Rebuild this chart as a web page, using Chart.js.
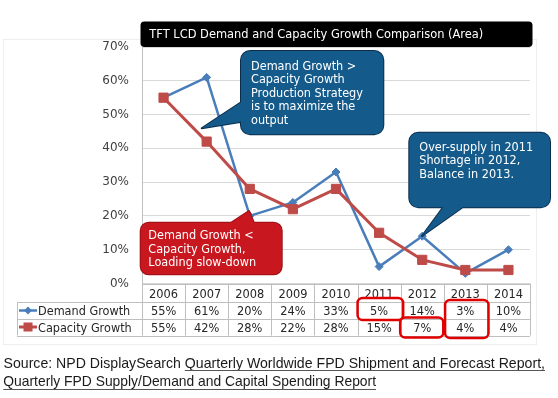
<!DOCTYPE html>
<html>
<head>
<meta charset="utf-8">
<script src="https://cdn.jsdelivr.net/npm/chart.js@4"></script>
<style>
  html, body { margin: 0; padding: 0; background: #fff; }
  canvas { display: block; }
</style>
</head>
<body>
<canvas id="grafico" width="558" height="398"></canvas>
<script>
const years = ['2006', '2007', '2008', '2009', '2010', '2011', '2012', '2013', '2014'];
const demandGrowth = [55, 61, 20, 24, 33, 5, 14, 3, 10];
const capacityGrowth = [55, 42, 28, 22, 28, 15, 7, 4, 4];
const yTicks = [0, 10, 20, 30, 40, 50, 60, 70];

const blue = '#4a7ebb';
const red = '#be4b48';

// text squeezed horizontally a bit, like the original slide
function sq(ctx, s, x, y, k) {
  ctx.save();
  ctx.translate(x, y);
  ctx.scale(k, 1);
  ctx.fillText(s, 0, 0);
  ctx.restore();
}

function callout(ctx, box, tail, fill, stroke, lines, tx, ty) {
  const [x0, y0, x1, y1, r] = box;
  const shape = () => {
    ctx.beginPath();
    ctx.roundRect(x0, y0, x1 - x0, y1 - y0, r);
    ctx.moveTo(tail[0][0], tail[0][1]);
    ctx.lineTo(tail[1][0], tail[1][1]);
    ctx.lineTo(tail[2][0], tail[2][1]);
    ctx.closePath();
  };
  ctx.save();
  shape();
  ctx.strokeStyle = stroke;
  ctx.lineWidth = 2;
  ctx.lineJoin = 'round';
  ctx.stroke();
  ctx.fillStyle = fill;
  ctx.beginPath();
  ctx.roundRect(x0, y0, x1 - x0, y1 - y0, r);
  ctx.fill();
  ctx.beginPath();
  ctx.moveTo(tail[0][0], tail[0][1]);
  ctx.lineTo(tail[1][0], tail[1][1]);
  ctx.lineTo(tail[2][0], tail[2][1]);
  ctx.closePath();
  ctx.fill();
  ctx.fillStyle = '#fff';
  ctx.font = '12px "DejaVu Sans"';
  ctx.textAlign = 'left';
  ctx.textBaseline = 'alphabetic';
  lines.forEach((l, i) => sq(ctx, l, tx, ty + i * 13.4, 0.94));
  ctx.restore();
}

const extras = {
  id: 'extras',
  beforeDraw(chart) {
    const ctx = chart.ctx;
    ctx.save();
    ctx.strokeStyle = '#eeeeee';
    ctx.lineWidth = 1;
    ctx.strokeRect(3.5, 39.5, 533, 305);
    ctx.restore();
  },
  afterDraw(chart) {
    const ctx = chart.ctx;
    const xs = chart.scales.x;
    const a = chart.chartArea;
    const colW = (a.right - a.left) / years.length;
    const r0 = a.bottom, r1 = 302, r2 = 319, r3 = 335.5;
    const colL = i => a.left + i * colW;

    ctx.save();
    // table grid
    ctx.strokeStyle = '#bfbfbf';
    ctx.lineWidth = 1;
    ctx.beginPath();
    [r0, r1, r2, r3].forEach((y, j) => {
      const yy = Math.round(y) + 0.5;
      ctx.moveTo(j === 0 ? a.left : 17, yy);
      ctx.lineTo(a.right, yy);
    });
    ctx.moveTo(17.5, r1);
    ctx.lineTo(17.5, r3);
    for (let i = 0; i <= years.length; i++) {
      const xx = Math.round(colL(i)) + 0.5;
      ctx.moveTo(xx, r0);
      ctx.lineTo(xx, r3);
    }
    ctx.stroke();

    // table text
    ctx.fillStyle = '#262626';
    ctx.font = '12px "DejaVu Sans"';
    ctx.textAlign = 'center';
    years.forEach((y, i) => {
      const cx = xs.getPixelForValue(i);
      sq(ctx, y, cx, 298, 0.95);
      sq(ctx, demandGrowth[i] + '%', cx, 315.2, 0.95);
      sq(ctx, capacityGrowth[i] + '%', cx, 331.7, 0.95);
    });
    ctx.textAlign = 'left';
    sq(ctx, 'Demand Growth', 38, 315.2, 0.94);
    sq(ctx, 'Capacity Growth', 38, 331.7, 0.94);

    // legend keys
    ctx.lineWidth = 2.5;
    ctx.strokeStyle = blue;
    ctx.beginPath(); ctx.moveTo(19, 310.5); ctx.lineTo(37, 310.5); ctx.stroke();
    ctx.fillStyle = blue;
    ctx.beginPath();
    ctx.moveTo(28, 306.5); ctx.lineTo(32, 310.5); ctx.lineTo(28, 314.5); ctx.lineTo(24, 310.5);
    ctx.closePath(); ctx.fill();
    ctx.strokeStyle = red;
    ctx.lineWidth = 3;
    ctx.beginPath(); ctx.moveTo(19, 327); ctx.lineTo(37, 327); ctx.stroke();
    ctx.fillStyle = red;
    ctx.fillRect(23.5, 322.5, 9, 9);

    // red highlight boxes
    ctx.strokeStyle = '#e00000';
    ctx.lineWidth = 2.5;
    ctx.beginPath();
    ctx.roundRect(colL(5), 298, colW + 2.5, 22, 5);
    ctx.roundRect(colL(6) - 0.5, 317.5, colW, 20, 5);
    ctx.roundRect(colL(7) + 1.3, 300, colW + 0.3, 38, 5);
    ctx.stroke();

    // title bar
    ctx.fillStyle = '#000';
    ctx.beginPath();
    ctx.roundRect(140.5, 21.5, 392, 25.5, 4);
    ctx.fill();
    ctx.fillStyle = '#fff';
    ctx.font = '13px "DejaVu Sans"';
    const title = 'TFT LCD Demand and Capacity Growth Comparison (Area)';
    sq(ctx, title, 149.3, 38.3, 334 / ctx.measureText(title).width);
    ctx.restore();

    // callouts
    callout(ctx, [241, 51, 383.3, 134.3, 9],
      [[246, 99], [201.7, 128.3], [246, 121]],
      '#145b8c', '#0c2e4c',
      ['Demand Growth >', 'Capacity Growth', 'Production Strategy', 'is to maximize the', 'output'],
      251, 70);
    callout(ctx, [409.3, 132.7, 550, 207.3, 9],
      [[447, 202], [422, 236], [470, 202]],
      '#145b8c', '#0c2e4c',
      ['Over-supply in 2011', 'Shortage in 2012,', 'Balance in 2013.'],
      419.3, 150.7);
    callout(ctx, [140.7, 222.7, 281.7, 274.3, 8],
      [[223, 228], [249, 211], [256, 228]],
      '#c8171e', '#9a1015',
      ['Demand Growth <', 'Capacity Growth,', 'Loading slow-down'],
      148.3, 239.3);

    // source note
    ctx.save();
    ctx.fillStyle = '#1a1a1a';
    ctx.strokeStyle = '#555';
    ctx.lineWidth = 1;
    ctx.font = '15px "Liberation Sans"';
    ctx.textAlign = 'left';
    const segs1 = [['Source: NPD DisplaySearch ', false],
      ['Quarterly Worldwide FPD Shipment and Forecast Report,', true]];
    const full1 = segs1.map(s => s[0]).join('');
    const k1 = 541.5 / ctx.measureText(full1).width;
    let x = 3.5;
    segs1.forEach(([t, u]) => {
      const w = ctx.measureText(t).width * k1;
      sq(ctx, t, x, 367.7, k1);
      if (u) {
        ctx.beginPath(); ctx.moveTo(x, 370.5); ctx.lineTo(x + w, 370.5); ctx.stroke();
      }
      x += w;
    });
    const line2 = 'Quarterly FPD Supply/Demand and Capital Spending Report';
    const k2 = 372.7 / ctx.measureText(line2).width;
    sq(ctx, line2, 3.3, 386.3, k2);
    ctx.beginPath(); ctx.moveTo(3.3, 389.5); ctx.lineTo(376, 389.5); ctx.stroke();
    ctx.restore();
  }
};

const ctx = document.getElementById('grafico').getContext('2d');

const grafico = new Chart(ctx, {
  type: 'line',
  data: {
    labels: years,
    datasets: [{
      label: 'Demand Growth',
      data: demandGrowth,
      borderColor: blue,
      backgroundColor: blue,
      borderWidth: 2.5,
      pointStyle: 'rectRot',
      pointRadius: 4,
      pointBorderWidth: 1,
      borderJoinStyle: 'round',
      tension: 0,
      order: 1
    }, {
      label: 'Capacity Growth',
      data: capacityGrowth,
      borderColor: red,
      backgroundColor: red,
      borderWidth: 3,
      pointStyle: 'rect',
      pointRadius: 6.5,
      pointBorderWidth: 1,
      borderJoinStyle: 'round',
      tension: 0,
      order: 0
    }]
  },
  options: {
    responsive: false,
    animation: false,
    devicePixelRatio: 1,
    layout: {
      padding: { left: 0, right: 28, top: 47, bottom: 114.5 }
    },
    plugins: {
      legend: { display: false },
      tooltip: { enabled: false }
    },
    scales: {
      x: {
        display: false,
        offset: true
      },
      y: {
        min: yTicks[0],
        max: yTicks[yTicks.length - 1],
        afterBuildTicks: scale => { scale.ticks = yTicks.map(v => ({ value: v })); },
        afterFit: scale => { scale.width = 142; },
        ticks: {
          callback: v => v + '%',
          color: '#404040',
          padding: 13,
          font: { family: 'DejaVu Sans', size: 12 }
        },
        grid: {
          color: '#d9d9d9',
          drawTicks: false
        },
        border: {
          color: '#bfbfbf'
        }
      }
    }
  },
  plugins: [extras]
});
</script>
</body>
</html>
